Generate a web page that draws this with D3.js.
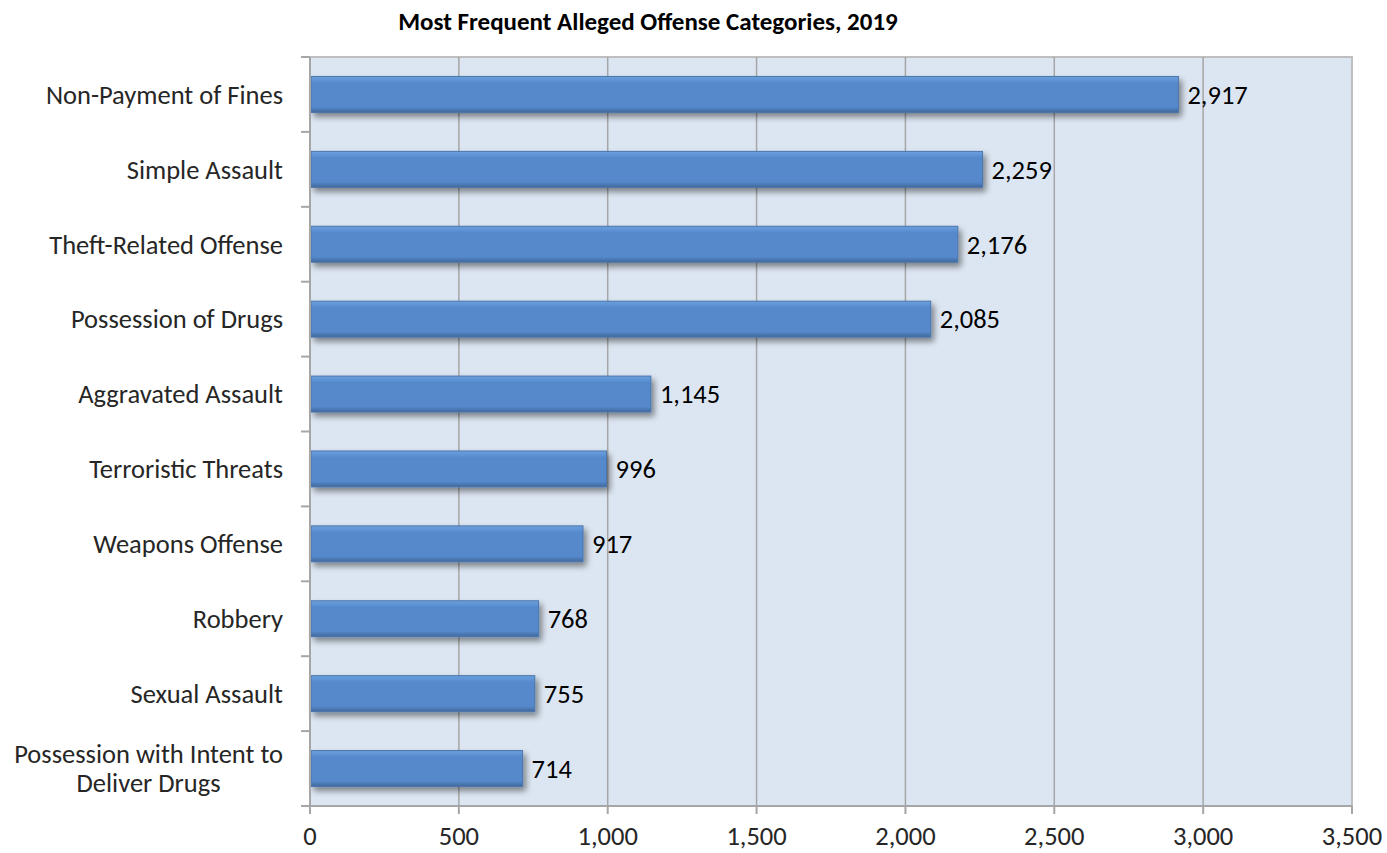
<!DOCTYPE html>
<html>
<head>
<meta charset="utf-8">
<script src="https://cdnjs.cloudflare.com/ajax/libs/d3/7.8.5/d3.min.js"></script>
<style>
  body { margin: 0; background: #fff; }
  text { font-family: Carlito, Calibri, Lato, "Open Sans", sans-serif; }
</style>
</head>
<body>
<div id="chart"></div>
<script>
// chart data, top to bottom
var categories = [
  'Non-Payment of Fines', 'Simple Assault', 'Theft-Related Offense',
  'Possession of Drugs', 'Aggravated Assault', 'Terroristic Threats',
  'Weapons Offense', 'Robbery', 'Sexual Assault',
  'Possession with Intent to Deliver Drugs'
];
var values = [2917, 2259, 2176, 2085, 1145, 996, 917, 768, 755, 714];
var xTicks = [0, 500, 1000, 1500, 2000, 2500, 3000, 3500];
var title = 'Most Frequent Alleged Offense Categories, 2019';

var W = 1387, H = 853;
var m = {left: 310, right: 35, top: 57, bottom: 47};
var pw = W - m.left - m.right, ph = H - m.top - m.bottom;
var FS = '26.5px';

var svg = d3.select('#chart').append('svg')
  .attr('width', W).attr('height', H);

var defs = svg.append('defs');
var grad = defs.append('linearGradient').attr('id', 'barGrad')
  .attr('x1', 0).attr('y1', 0).attr('x2', 0).attr('y2', 1);
grad.append('stop').attr('offset', '0%').attr('stop-color', '#6d9fdc');
grad.append('stop').attr('offset', '10%').attr('stop-color', '#5f95d6');
grad.append('stop').attr('offset', '18%').attr('stop-color', '#5589cb');
grad.append('stop').attr('offset', '85%').attr('stop-color', '#5589cb');
grad.append('stop').attr('offset', '100%').attr('stop-color', '#41679a');

var shadow = defs.append('filter').attr('id', 'shadow')
  .attr('x', '-5%').attr('y', '-20%').attr('width', '115%').attr('height', '160%');
shadow.append('feGaussianBlur').attr('in', 'SourceAlpha').attr('stdDeviation', 3);
shadow.append('feOffset').attr('dx', 3).attr('dy', 4).attr('result', 'ob');
shadow.append('feComponentTransfer').append('feFuncA').attr('type', 'linear').attr('slope', 0.45);
var merge = shadow.append('feMerge');
merge.append('feMergeNode');
merge.append('feMergeNode').attr('in', 'SourceGraphic');

var x = d3.scaleLinear().domain([0, 3500]).range([0, pw]);
var y = d3.scaleBand().domain(categories).range([0, ph]).paddingInner(0.52).paddingOuter(0.26);
var yb = d3.scaleBand().domain(categories).range([0, ph]);

svg.append('text')
  .attr('x', 648).attr('y', 30)
  .attr('text-anchor', 'middle')
  .style('font-size', '25px').style('font-weight', 'bold')
  .text(title);

var g = svg.append('g').attr('transform', 'translate(' + m.left + ',' + m.top + ')');

g.append('rect').attr('width', pw).attr('height', ph)
  .attr('fill', '#dce6f2').attr('stroke', '#bfbfbf').attr('stroke-width', 2);

g.selectAll('.grid').data(xTicks.slice(1, -1)).enter()
  .append('line').attr('class', 'grid')
  .attr('x1', function(d) { return x(d); }).attr('x2', function(d) { return x(d); })
  .attr('y1', 0).attr('y2', ph)
  .attr('stroke', '#a6a6a6').attr('stroke-width', 1.5);

// bars
g.selectAll('.bar').data(values).enter()
  .append('rect').attr('class', 'bar')
  .attr('x', 1)
  .attr('y', function(d, i) { return y(categories[i]); })
  .attr('width', function(d) { return x(d) - 1; })
  .attr('height', y.bandwidth())
  .attr('fill', 'url(#barGrad)')
  .attr('stroke', '#4a76ad').attr('stroke-width', 1)
  .attr('filter', 'url(#shadow)');

g.selectAll('.val').data(values).enter()
  .append('text').attr('class', 'val')
  .attr('x', function(d) { return x(d) + 9; })
  .attr('y', function(d, i) { return y(categories[i]) + y.bandwidth() / 2; })
  .attr('dy', '0.35em')
  .style('font-size', FS).attr('fill', '#000')
  .text(function(d) { return d3.format(',')(d); });

// y axis
g.append('line').attr('x1', 0).attr('x2', 0).attr('y1', 0).attr('y2', ph)
  .attr('stroke', '#a6a6a6').attr('stroke-width', 2);
g.selectAll('.ytick').data(categories.concat(['end'])).enter()
  .append('line').attr('class', 'ytick')
  .attr('x1', -9).attr('x2', 0)
  .attr('y1', function(d, i) { return i * yb.step(); })
  .attr('y2', function(d, i) { return i * yb.step(); })
  .attr('stroke', '#a6a6a6').attr('stroke-width', 2);

var yl = g.selectAll('.ylab').data(categories).enter()
  .append('text').attr('class', 'ylab')
  .attr('transform', function(d) { return 'translate(-27,' + (yb(d) + yb.bandwidth() / 2) + ')'; })
  .style('font-size', FS).attr('fill', '#262626');
yl.each(function(d) {
  var t = d3.select(this);
  if (d !== 'Possession with Intent to Deliver Drugs') {
    t.attr('text-anchor', 'end').append('tspan').attr('x', 0).attr('dy', '0.35em').text(d);
    return;
  }
  // wrapped label, lines centred on each other
  var lines = ['Possession with Intent to', 'Deliver Drugs'];
  t.attr('text-anchor', 'middle');
  var tsp = lines.map(function(s, k) {
    return t.append('tspan').attr('y', (k - 0.5) * 29).attr('dy', '0.35em').text(s);
  });
  var wmax = d3.max(tsp, function(s) { return s.node().getComputedTextLength(); });
  tsp.forEach(function(s) { s.attr('x', -wmax / 2); });
});

// x axis
g.append('line').attr('x1', 0).attr('x2', pw).attr('y1', ph).attr('y2', ph)
  .attr('stroke', '#a6a6a6').attr('stroke-width', 2);
g.selectAll('.xtick').data(xTicks).enter()
  .append('line').attr('class', 'xtick')
  .attr('x1', function(d) { return x(d); }).attr('x2', function(d) { return x(d); })
  .attr('y1', ph).attr('y2', ph + 8)
  .attr('stroke', '#a6a6a6').attr('stroke-width', 2);
g.selectAll('.xlab').data(xTicks).enter()
  .append('text').attr('class', 'xlab')
  .attr('x', function(d) { return x(d); })
  .attr('y', ph + 39)
  .attr('text-anchor', 'middle')
  .style('font-size', FS).attr('fill', '#262626')
  .text(function(d) { return d3.format(',')(d); });
</script>
</body>
</html>
